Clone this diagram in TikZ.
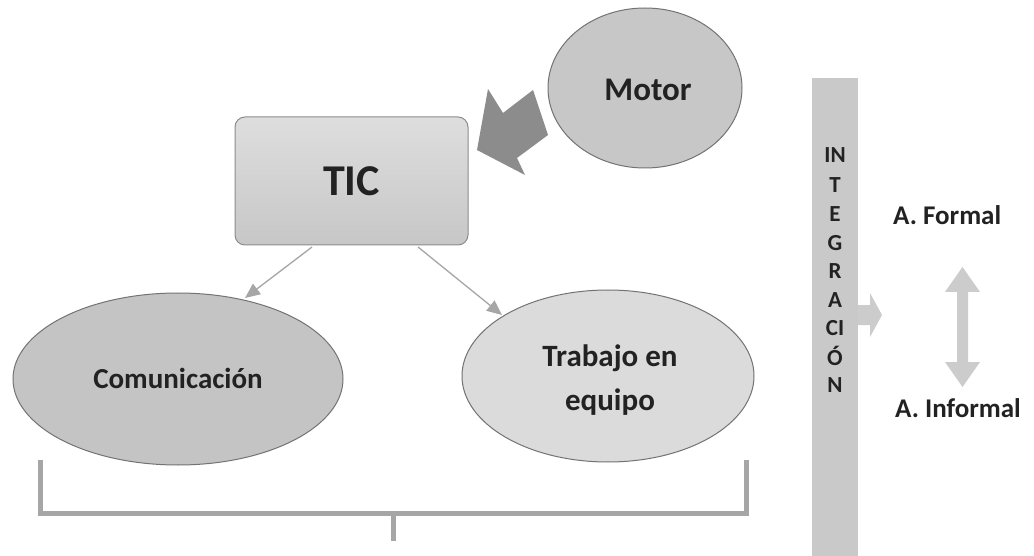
\documentclass[tikz,border=0pt]{standalone}
\usepackage{fontspec}
\setmainfont{Carlito}
\usetikzlibrary{arrows.meta,shapes.geometric,calc}
\definecolor{txt}{HTML}{222222}
\definecolor{lineg}{HTML}{A6A6A6}
\definecolor{darkarr}{HTML}{8C8C8C}
\begin{document}
\begin{tikzpicture}[x=1pt,y=-1pt,
  lbl/.style={font=\bfseries, text=txt, inner sep=0pt},
  ellbox/.style={ellipse, draw=black!55, line width=1pt, inner sep=0pt},
  conn/.style={draw=lineg, line width=1.3pt, -{Triangle[length=15pt,width=13pt]}},
  bracket/.style={draw=lineg, line width=5pt},
  lightarr/.style={fill=black!20, draw=none}
]
\useasboundingbox (0,0) rectangle (1034,556);
\fill[white] (0,0) rectangle (1034,556);
% TIC box
\node[draw=black!45, line width=1pt, rounded corners=10pt, top color=black!13, bottom color=black!22,
  minimum width=233pt, minimum height=128pt, inner sep=0pt] (tic) at (351.5,181) {};
\node[lbl, font=\bfseries\fontsize{44}{44}\selectfont] (tict) at (tic.center) {TIC};
% Motor
\node[ellbox, fill=black!22, minimum width=194pt, minimum height=160pt] (motor) at (645,88) {};
\node[lbl, font=\bfseries\fontsize{33}{33}\selectfont] (motort) at (648,90) {Motor};
% Fat arrow from Motor to TIC
\fill[darkarr] (477,150) -- (488,89) -- (503,113) -- (533,90) -- (548,135) -- (517,158) -- (525,175) -- cycle;
% Ellipses
\node[ellbox, fill=black!23, minimum width=330pt, minimum height=172pt] (com) at (178,379) {};
\node[lbl, font=\bfseries\fontsize{29}{29}\selectfont] (comt) at (178,378) {Comunicación};
\node[ellbox, fill=black!14, minimum width=292pt, minimum height=172pt] (tra) at (608,376) {};
\node[lbl, font=\bfseries\fontsize{31}{44}\selectfont, align=center] (trat) at (610,380) {Trabajo en\\equipo};
% connectors
\coordinate (l0) at (312,247);
\coordinate (l1) at (245,298);
\coordinate (r0) at (418,247);
\coordinate (r1) at (502,315);
\draw[conn] (l0) -- (l1);
\draw[conn] (r0) -- (r1);
% bracket
\coordinate (b1) at (40,460);
\coordinate (b2) at (40,513);
\coordinate (b3) at (746,513);
\coordinate (b4) at (746,460);
\coordinate (b5) at (393,513);
\coordinate (b6) at (393,541);
\draw[bracket] (b1) -- (b2) -- (b3) -- (b4);
\draw[bracket] (b5) -- (b6);
% integration bar
\fill[black!21] (812,78) rectangle (858,556);
\foreach \t/\yy [count=\i] in {IN/155,T/185,E/214,G/243,R/271,A/300,CI/328,Ó/356,N/385}
  \node[lbl, font=\bfseries\fontsize{23}{23}\selectfont] (int\i) at (835,\yy) {\t};
% small right arrow
\fill[lightarr] (858,305) -- (870,305) -- (870,293) -- (882,315) -- (870,337) -- (870,325) -- (858,325) -- cycle;
% double arrow
\fill[lightarr] (962.5,267) -- (980,292) -- (968,292) -- (968,362) -- (980,362) -- (962.5,387) -- (945,362) -- (957,362) -- (957,292) -- (945,292) -- cycle;
% labels
\node[lbl, anchor=west, font=\bfseries\fontsize{27}{27}\selectfont] (af) at (893,215) {A. Formal};
\node[lbl, anchor=west, font=\bfseries\fontsize{27}{27}\selectfont] (ai) at (895,408) {A. Informal};
\end{tikzpicture}
\end{document}
